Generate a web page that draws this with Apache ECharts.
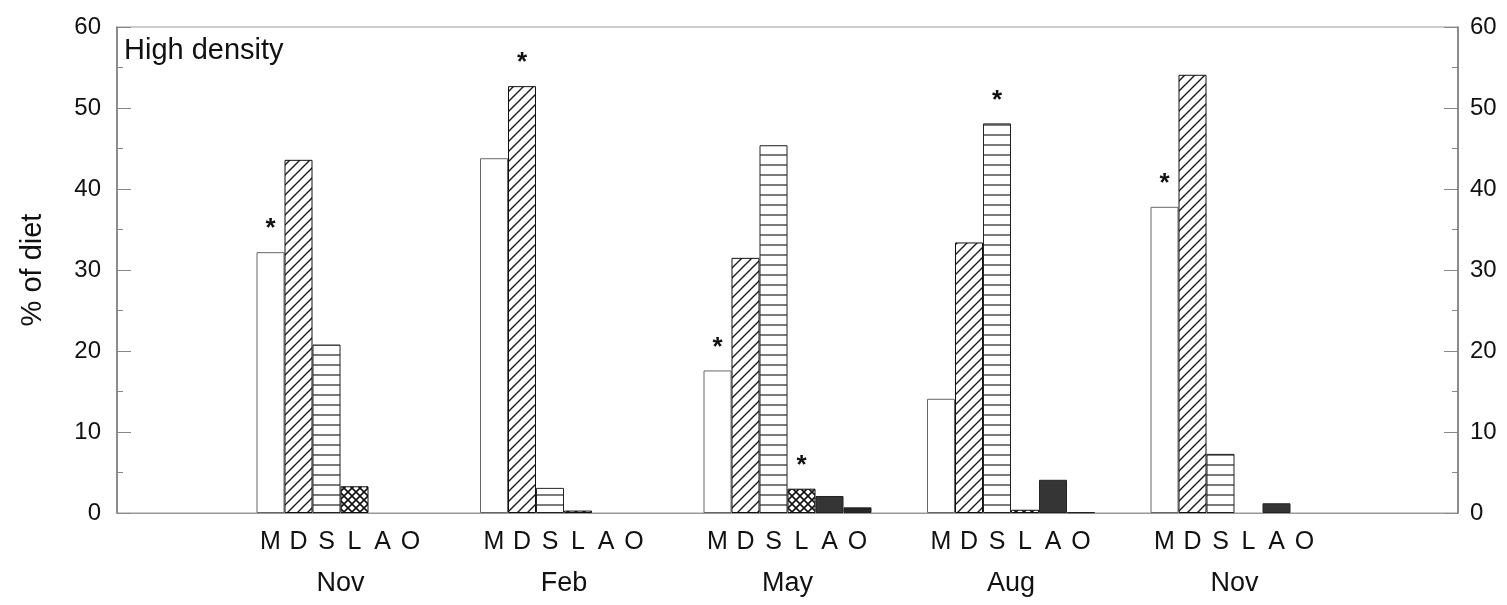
<!DOCTYPE html>
<html>
<head>
<meta charset="utf-8">
<script src="https://cdn.jsdelivr.net/npm/echarts@6/dist/echarts.min.js"></script>
<style>
html,body{margin:0;padding:0;background:#fff;}
#chart{width:1507px;height:605px;}
</style>
</head>
<body>
<div id="chart"></div>
<script>
// ---- data ----
const months = ['Nov', 'Feb', 'May', 'Aug', 'Nov'];
const dietCodes = ['M', 'D', 'S', 'L', 'A', 'O'];
const valuesM = [32.2, 43.8, 17.6, 14.1, 37.8];
const valuesD = [43.6, 52.7, 31.5, 33.4, 54.1];
const valuesS = [20.8, 3.1, 45.4, 48.1, 7.3];
const valuesL = [3.3, 0.3, 3.0, 0.4, 0.0];
const valuesA = [0.0, 0.0, 2.1, 4.1, 1.2];
const valuesO = [0.0, 0.0, 0.7, 0.1, 0.0];
// significance stars (1 = starred)
const starsM = [1, 0, 1, 0, 1];
const starsD = [0, 1, 0, 0, 0];
const starsS = [0, 0, 0, 1, 0];
const starsL = [0, 0, 1, 0, 0];
const starsA = [0, 0, 0, 0, 0];
const starsO = [0, 0, 0, 0, 0];
const yTicks = [0, 10, 20, 30, 40, 50, 60];

// ---- patterns ----
function makePattern(kind) {
  const c = document.createElement('canvas');
  const ctx = c.getContext('2d');
  if (kind === 'diag') {
    c.width = 10; c.height = 10;
    ctx.fillStyle = '#fff'; ctx.fillRect(0, 0, 10, 10);
    ctx.strokeStyle = '#1a1a1a'; ctx.lineWidth = 1.4;
    ctx.beginPath();
    ctx.moveTo(-2, 12); ctx.lineTo(12, -2);
    ctx.moveTo(-2, 2); ctx.lineTo(2, -2);
    ctx.moveTo(8, 12); ctx.lineTo(12, 8);
    ctx.stroke();
  } else if (kind === 'horiz') {
    c.width = 10; c.height = 10;
    ctx.fillStyle = '#fff'; ctx.fillRect(0, 0, 10, 10);
    ctx.strokeStyle = '#222'; ctx.lineWidth = 1.2;
    ctx.beginPath(); ctx.moveTo(0, 5); ctx.lineTo(10, 5); ctx.stroke();
  } else if (kind === 'cross') {
    c.width = 8; c.height = 8;
    ctx.fillStyle = '#fff'; ctx.fillRect(0, 0, 8, 8);
    ctx.strokeStyle = '#111'; ctx.lineWidth = 1.6;
    ctx.beginPath();
    ctx.moveTo(-1, 9); ctx.lineTo(9, -1);
    ctx.moveTo(-1, -1); ctx.lineTo(9, 9);
    ctx.stroke();
  }
  return c;
}
const fills = {
  M: '#ffffff',
  D: { image: makePattern('diag'), repeat: 'repeat' },
  S: { image: makePattern('horiz'), repeat: 'repeat' },
  L: { image: makePattern('cross'), repeat: 'repeat' },
  A: '#353535',
  O: '#262626'
};
const borders = { M: '#666', D: '#111', S: '#222', L: '#111', A: '#222', O: '#222' };

const seriesValues = { M: valuesM, D: valuesD, S: valuesS, L: valuesL, A: valuesA, O: valuesO };
const seriesStars = { M: starsM, D: starsD, S: starsS, L: starsL, A: starsA, O: starsO };

const categories = [''].concat(months).concat([' ']);

function buildData(code) {
  const vals = seriesValues[code];
  const st = seriesStars[code];
  const arr = [null];
  vals.forEach((v, i) => {
    const item = { value: v, label: { show: !!st[i] } };
    if (v === 0) item.itemStyle = { borderWidth: 0 };
    arr.push(item);
  });
  arr.push(null);
  return arr;
}

const series = dietCodes.map(code => ({
  name: code,
  type: 'bar',
  barWidth: 28,
  barGap: '0%',
  data: buildData(code),
  itemStyle: { color: fills[code], borderColor: borders[code], borderWidth: 1 },
  label: {
    show: false, position: 'top', formatter: '*', distance: 10,
    fontSize: 26, fontWeight: 'bold', color: '#111', fontFamily: 'Liberation Sans, Arial, sans-serif'
  },
  emphasis: { disabled: true },
  animation: false
}));

const letterRich = dietCodes.map(c => '{l|' + c + '}').join('');

const chart = echarts.init(document.getElementById('chart'), null, { renderer: 'canvas' });
chart.setOption({
  backgroundColor: '#fff',
  animation: false,
  textStyle: { fontFamily: 'Liberation Sans, Arial, sans-serif' },
  grid: { left: 117, right: 49, top: 27, bottom: 92, show: true, borderColor: '#999', borderWidth: 1 },
  xAxis: {
    type: 'category',
    data: categories,
    boundaryGap: false,
    axisLine: { show: true, lineStyle: { color: '#999', width: 1 } },
    axisTick: { show: false },
    splitLine: { show: false },
    axisLabel: {
      interval: 0,
      margin: 8,
      formatter: v => v.trim() ? letterRich + '\n{m|' + v + '}' : '',
      rich: {
        l: { width: 28, align: 'center', fontSize: 25, color: '#111', lineHeight: 42, fontFamily: 'Liberation Sans, Arial, sans-serif' },
        m: { fontSize: 27, color: '#111', lineHeight: 42, fontFamily: 'Liberation Sans, Arial, sans-serif' }
      }
    }
  },
  yAxis: [
    {
      type: 'value', min: 0, max: 60, interval: 10,
      name: '% of diet', nameLocation: 'middle', nameGap: 70,
      nameTextStyle: { fontSize: 29, color: '#111', fontFamily: 'Liberation Sans, Arial, sans-serif' },
      axisLine: { show: true, lineStyle: { color: '#777', width: 1.5 } },
      axisTick: { show: true, inside: true, length: 14, lineStyle: { color: '#888' } },
      minorTick: { show: true, splitNumber: 2, length: 6, lineStyle: { color: '#888' } },
      splitLine: { show: false },
      axisLabel: { margin: 16, fontSize: 24, color: '#111', formatter: v => yTicks.includes(v) ? String(v) : '' }
    },
    {
      type: 'value', min: 0, max: 60, interval: 10, position: 'right',
      axisLine: { show: true, lineStyle: { color: '#777', width: 1.5 } },
      axisTick: { show: true, inside: true, length: 14, lineStyle: { color: '#888' } },
      minorTick: { show: true, splitNumber: 2, length: 6, lineStyle: { color: '#888' } },
      splitLine: { show: false },
      axisLabel: { margin: 12, fontSize: 24, color: '#111', formatter: v => yTicks.includes(v) ? String(v) : '' }
    }
  ],
  graphic: [{
    type: 'text', left: 124, top: 36,
    style: { text: 'High density', fontSize: 29, fill: '#111', fontFamily: 'Liberation Sans, Arial, sans-serif' }
  }],
  series: series
});
</script>
</body>
</html>
